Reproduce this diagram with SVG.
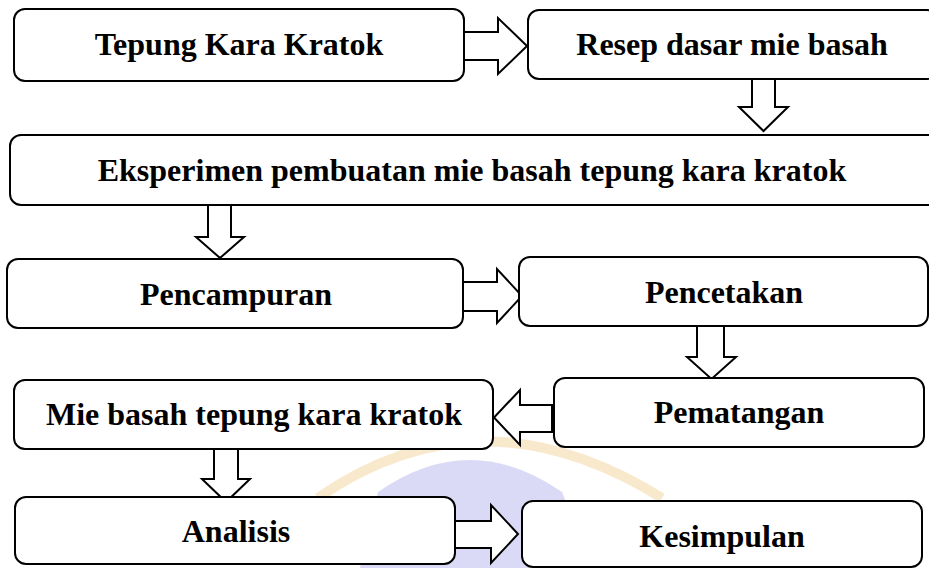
<svg xmlns="http://www.w3.org/2000/svg" width="929" height="568" viewBox="0 0 929 568">
<style>
.box{fill:#fff;stroke:#000;stroke-width:2}
.arr{fill:#fff;stroke:#000;stroke-width:2;stroke-linejoin:miter}
.lbl{font-family:"Liberation Serif","Times New Roman",serif;font-weight:bold;font-size:32px;fill:#000;text-anchor:middle}
</style>
<rect width="929" height="568" fill="#fff"/>
<g id="watermark">
<path d="M360 568 L378 492 Q470 428 562 492 L592 568 Z" fill="#d3d4f5" opacity="0.85"/>
<path d="M318 498 Q480 385 662 498" fill="none" stroke="#f3d49a" stroke-width="10" opacity="0.5"/>
</g>
<g id="connectors">
<polygon class="arr" points="462,32 498,32 498,18 527,46 498,74 498,60 462,60"/>
<polygon class="arr" points="752,79 775,79 775,107 788,107 763.5,131 739,107 752,107"/>
<polygon class="arr" points="208,204 231,204 231,237 244,237 220,258 196,237 208,237"/>
<polygon class="arr" points="462,282 497,282 497,269 522,296 497,323 497,311 462,311"/>
<polygon class="arr" points="697,326 724,326 724,357 736,357 711.5,379 687,357 697,357"/>
<polygon class="arr" points="552,405 520,405 520,390 494,417.5 520,445 520,432 552,432"/>
<polygon class="arr" points="214,449 238,449 238,479 250,479 226,502 202,479 214,479"/>
<polygon class="arr" points="455,521 491,521 491,505 518,534 491,563 491,548 455,548"/>
</g>
<g id="n1"><rect class="box" x="14" y="9" width="450" height="72" rx="11"/><text class="lbl" x="239" y="55">Tepung Kara Kratok</text></g>
<g id="n2"><rect class="box" x="528" y="10" width="410" height="69" rx="11"/><text class="lbl" x="732" y="55">Resep dasar mie basah</text></g>
<g id="n3"><rect class="box" x="10" y="135" width="935" height="70" rx="11"/><text class="lbl" x="472" y="181">Eksperimen pembuatan mie basah tepung kara kratok</text></g>
<g id="n4"><rect class="box" x="7" y="259" width="456" height="69" rx="11"/><text class="lbl" x="236" y="305">Pencampuran</text></g>
<g id="n5"><rect class="box" x="519" y="257" width="409" height="69" rx="11"/><text class="lbl" x="724" y="303">Pencetakan</text></g>
<g id="n6"><rect class="box" x="554" y="378" width="370" height="69" rx="11"/><text class="lbl" x="739" y="423">Pematangan</text></g>
<g id="n7"><rect class="box" x="14" y="380" width="479" height="69" rx="11"/><text class="lbl" x="254" y="425">Mie basah tepung kara kratok</text></g>
<g id="n8"><rect class="box" x="15" y="497" width="440" height="67" rx="11"/><text class="lbl" x="236" y="542">Analisis</text></g>
<g id="n9"><rect class="box" x="522" y="501" width="400" height="66" rx="11"/><text class="lbl" x="722" y="547">Kesimpulan</text></g>
</svg>
